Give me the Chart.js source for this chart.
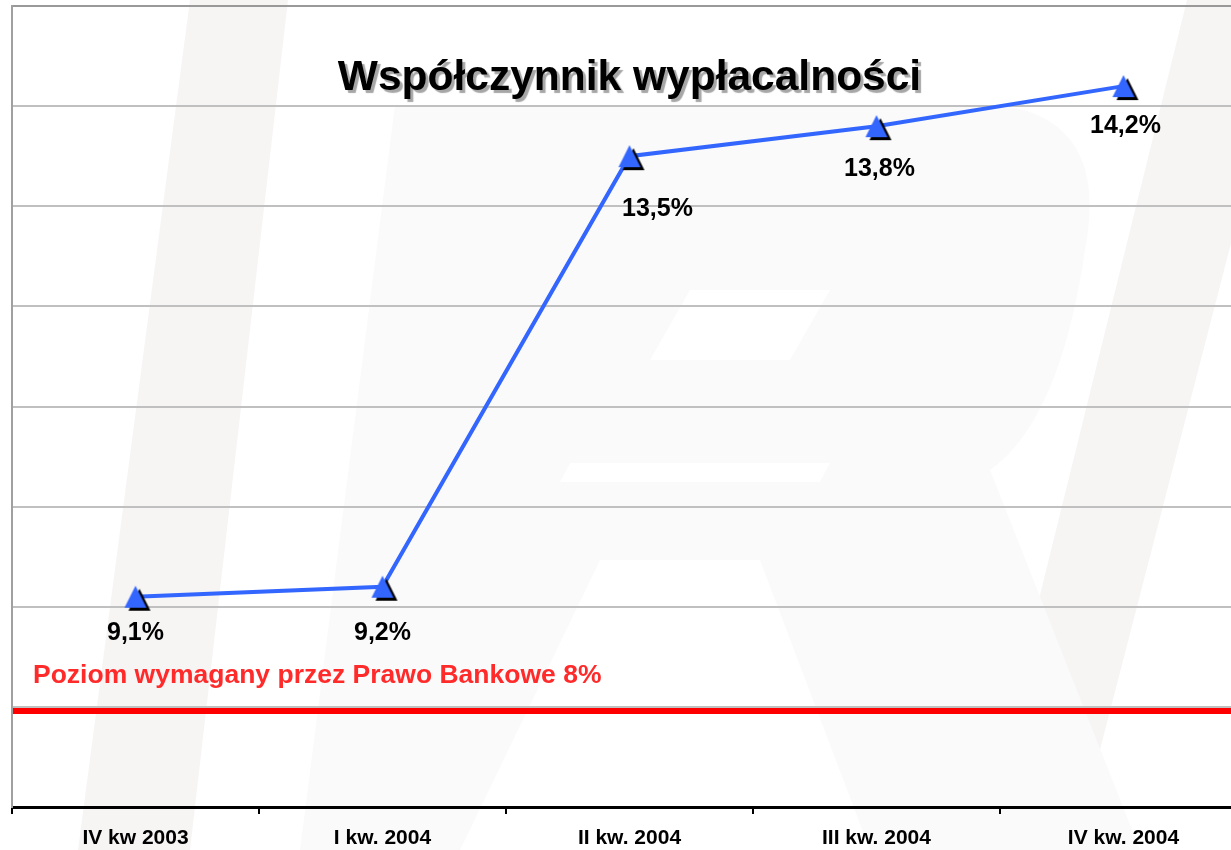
<!DOCTYPE html>
<html>
<head>
<meta charset="utf-8">
<script src="https://cdn.jsdelivr.net/npm/chart.js@4.4.1/dist/chart.umd.min.js"></script>
<style>
  html, body { margin: 0; padding: 0; background: #fff; overflow: hidden; }
  #wrap { width: 1231px; height: 850px; overflow: hidden; }
  canvas { display: block; }
</style>
</head>
<body>
<div id="wrap"><canvas id="chart" width="1250" height="850"></canvas></div>
<script>
const categories = ["IV kw 2003", "I kw. 2004", "II kw. 2004", "III kw. 2004", "IV kw. 2004"];
const ratioValues = [9.1, 9.2, 13.5, 13.8, 14.2];
const ratioLabels = ["9,1%", "9,2%", "13,5%", "13,8%", "14,2%"];
const requiredLevel = 8;
const requiredText = "Poziom wymagany przez Prawo Bankowe 8%";
const titleText = "Współczynnik wypłacalności";
const yMin = 7;
const yMax = 15;

const FONT = "'Liberation Sans', Arial, sans-serif";

// label placement as in the original (manually dragged labels)
const labelShift = [[0, 36], [0, 46], [28, 53], [3, 43], [2, 40]];

//triangle marker with black drop shadow
function makeMarker() {
  const c = document.createElement("canvas");
  c.width = 36;
  c.height = 36;
  const g = c.getContext("2d");
  const tri = function (dx, dy, color) {
    g.beginPath();
    g.moveTo(18 + dx, 7 + dy);
    g.lineTo(29 + dx, 29 + dy);
    g.lineTo(7 + dx, 29 + dy);
    g.closePath();
    g.fillStyle = color;
    g.fill();
  };
  tri(4, 3, "#000000");
  tri(0, 0, "#3366ff");
  return c;
}

//faint logo in the background
const watermark = {
  id: "watermark",
  beforeDraw(chart) {
    const ctx = chart.ctx;
    ctx.save();
    ctx.fillStyle = "#ffffff";
    ctx.fillRect(0, 0, chart.width, chart.height);
    ctx.fillStyle = "#f7f4f4";
    ctx.beginPath();
    ctx.moveTo(190, 0);
    ctx.lineTo(288, 0);
    ctx.lineTo(190, 850);
    ctx.lineTo(78, 850);
    ctx.closePath();
    ctx.fill();
    ctx.beginPath();
    ctx.moveTo(1187, 0);
    ctx.lineTo(1294, 0);
    ctx.lineTo(1074, 850);
    ctx.lineTo(977, 850);
    ctx.closePath();
    ctx.fill();
    ctx.fillStyle = "#fafafa";
    ctx.beginPath();
    ctx.moveTo(395, 105);
    ctx.lineTo(1000, 105);
    ctx.quadraticCurveTo(1110, 120, 1085, 250);
    ctx.quadraticCurveTo(1060, 420, 990, 470);
    ctx.lineTo(1140, 850);
    ctx.lineTo(870, 850);
    ctx.lineTo(760, 560);
    ctx.lineTo(600, 560);
    ctx.lineTo(460, 850);
    ctx.lineTo(300, 850);
    ctx.closePath();
    ctx.moveTo(690, 290);
    ctx.lineTo(830, 290);
    ctx.lineTo(790, 360);
    ctx.lineTo(650, 360);
    ctx.closePath();
    ctx.moveTo(570, 463);
    ctx.lineTo(830, 463);
    ctx.lineTo(820, 482);
    ctx.lineTo(560, 482);
    ctx.closePath();
    ctx.fill("evenodd");
    ctx.restore();
  },
};

//red required level line and its caption
const requiredLine = {
  id: "requiredLine",
  beforeDatasetsDraw(chart) {
    const ctx = chart.ctx;
    const area = chart.chartArea;
    const y = chart.scales.y.getPixelForValue(requiredLevel) + 4;
    ctx.save();
    ctx.strokeStyle = "#ff0000";
    ctx.lineWidth = 6;
    ctx.beginPath();
    ctx.moveTo(area.left + 1, y);
    ctx.lineTo(chart.width, y);
    ctx.stroke();
    ctx.fillStyle = "#ff2a2a";
    ctx.font = "bold 26.5px " + FONT;
    ctx.textBaseline = "alphabetic";
    ctx.textAlign = "left";
    ctx.fillText(requiredText, 33, y - 28);
    ctx.restore();
  },
};

//value labels under the points
const valueLabels = {
  id: "valueLabels",
  afterDatasetsDraw(chart) {
    const ctx = chart.ctx;
    const meta = chart.getDatasetMeta(0);
    ctx.save();
    ctx.fillStyle = "#000000";
    ctx.font = "bold 25px " + FONT;
    ctx.textAlign = "center";
    ctx.textBaseline = "middle";
    meta.data.forEach(function (pt, i) {
      ctx.fillText(ratioLabels[i], pt.x + labelShift[i][0], pt.y + labelShift[i][1]);
    });
    ctx.restore();
  },
};

//title with a soft shadow, placed inside the plot like the original
const shadowTitle = {
  id: "shadowTitle",
  afterDraw(chart) {
    const ctx = chart.ctx;
    const area = chart.chartArea;
    ctx.save();
    ctx.font = "bold 42.5px " + FONT;
    ctx.textAlign = "center";
    ctx.textBaseline = "alphabetic";
    ctx.shadowColor = "rgba(0, 0, 0, 0.35)";
    ctx.shadowOffsetX = 3;
    ctx.shadowOffsetY = 3;
    ctx.shadowBlur = 1;
    ctx.fillStyle = "#000000";
    ctx.fillText(titleText, (area.left + area.right) / 2, 90);
    ctx.restore();
  },
};

const ctx = document.getElementById("chart");

new Chart(ctx, {
  type: "line",
  data: {
    labels: categories,
    datasets: [
      {
        data: ratioValues,
        borderColor: "#3366ff",
        borderWidth: 4,
        pointStyle: makeMarker(),
        pointRadius: 12,
        tension: 0,
        fill: false,
        clip: false,
      },
    ],
  },
  options: {
    responsive: false,
    animation: false,
    layout: { autoPadding: false, padding: { left: 12, top: 6, right: 3, bottom: 0 } },
    plugins: {
      legend: { display: false },
      tooltip: { enabled: false },
      title: { display: false },
    },
    scales: {
      x: {
        offset: true,
        grid: {
          offset: true,
          drawOnChartArea: false,
          color: "#000000",
          lineWidth: 2,
          tickLength: 7,
        },
        border: { color: "#000000", width: 3 },
        ticks: {
          color: "#000000",
          padding: 12,
          font: { family: FONT, size: 21, weight: "bold" },
          maxRotation: 0,
          autoSkip: false,
        },
        afterFit(scale) {
          scale.height = 43;
        },
      },
      y: {
        min: yMin,
        max: yMax,
        ticks: { display: false, stepSize: 1 },
        grid: {
          drawTicks: false,
          lineWidth: 2,
          color: function (c) {
            if (c.tick.value === yMax) return "#999999";
            if (c.tick.value === yMin) return "rgba(0,0,0,0)";
            return "#c0c0c0";
          },
        },
        border: { color: "#a0a0a0", width: 2 },
        afterFit(scale) {
          scale.width = 0;
        },
      },
    },
  },
  plugins: [watermark, requiredLine, valueLabels, shadowTitle],
});
</script>
</body>
</html>
